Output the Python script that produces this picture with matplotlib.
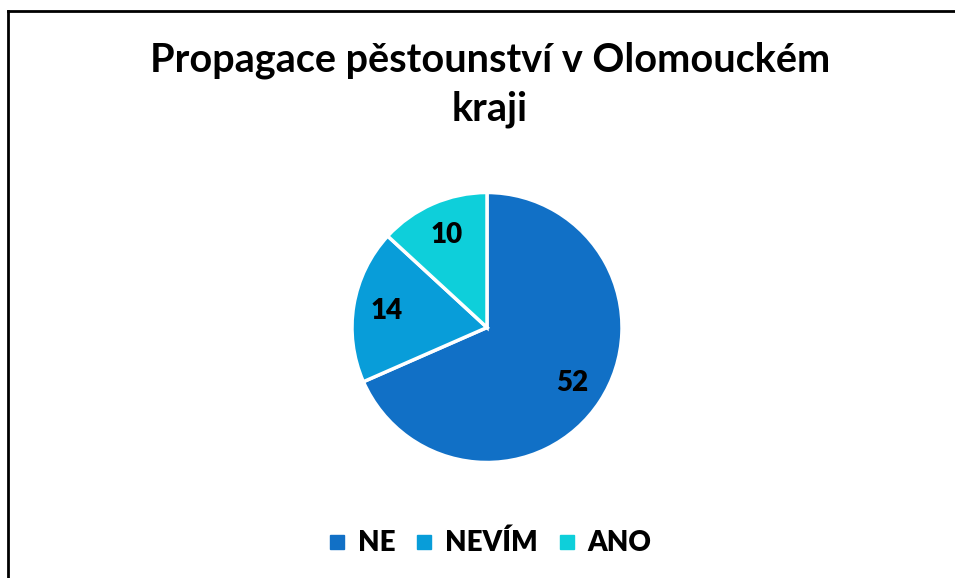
import numpy as np
import matplotlib.pyplot as plt
from matplotlib.lines import Line2D

labels = ['NE', 'NEVÍM', 'ANO']
values = [52, 14, 10]
colors = ['#1170C6', '#089DD9', '#0ECFDA']

plt.rcParams['font.family'] = ['Lato', 'DejaVu Sans']

fig = plt.figure(figsize=(9.55, 5.78), dpi=100)

# pie axes: center ~ (487, 327), radius ~ 135 px
W, H = 955, 578
cx, cy, r = 487, 327.5, 135
ax = fig.add_axes([(cx - r) / W, 1 - (cy + r) / H, 2 * r / W, 2 * r / H])

wedges, texts, autotexts = ax.pie(
    values, colors=colors, startangle=90, counterclock=False,
    autopct=lambda p: '{:.0f}'.format(p * sum(values) / 100),
    pctdistance=0.75,
    wedgeprops=dict(edgecolor='white', linewidth=2.5),
    textprops=dict(fontsize=20, fontweight='heavy', color='black'))
ax.set_xlim(-1, 1)
ax.set_ylim(-1, 1)
ax.set_aspect('equal')

fig.text(0.513, 1 - 85 / H, 'Propagace pěstounství v Olomouckém\nkraji',
         ha='center', va='center', fontsize=28.5, fontweight='bold',
         linespacing=1.4)

handles = [Line2D([0], [0], marker='s', linestyle='none', markersize=10,
                  markerfacecolor=c, markeredgecolor=c) for c in colors]
fig.legend(handles, labels, loc='center', bbox_to_anchor=(0.511, 1 - 543 / H),
           ncol=3, frameon=False, prop=dict(size=20, weight='heavy'),
           handletextpad=0.3, columnspacing=0.6, handlelength=0.9)

# chart border (left and top visible)
fig.add_artist(Line2D([7.5 / W, 7.5 / W], [0, 1 - 11 / H], color='black', lw=2))
fig.add_artist(Line2D([7.5 / W, 1], [1 - 11 / H, 1 - 11 / H], color='black', lw=2))

fig.savefig('out.png', dpi=100)
